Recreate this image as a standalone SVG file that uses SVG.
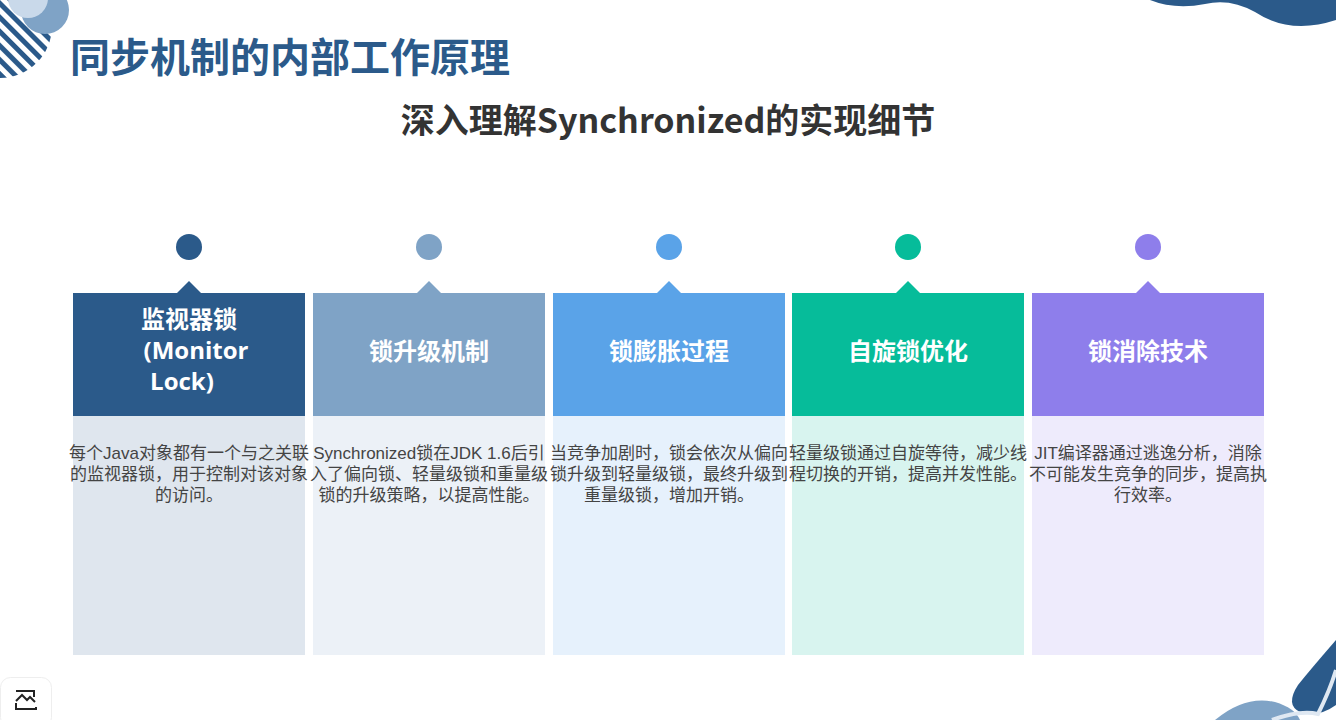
<svg xmlns="http://www.w3.org/2000/svg" width="1336" height="720" viewBox="0 0 1336 720">
<style>
.t{font-family:"Noto Sans CJK SC","Noto Sans",sans-serif}
.h{font-family:"Open Sans","Noto Sans CJK SC",sans-serif;font-weight:bold;font-size:24px;fill:#fff;text-anchor:middle}
.b{font-family:"Liberation Sans","Noto Sans CJK SC",sans-serif;font-size:17px;fill:#444;text-anchor:middle}
</style>
<defs>
<pattern id="st" width="10" height="10" patternUnits="userSpaceOnUse" patternTransform="rotate(45)">
<rect width="10" height="5" fill="#2b5a8a"/>
</pattern>
</defs>
<rect width="1336" height="720" fill="#fff"/>
<g id="deco">
<circle cx="0" cy="26" r="52" fill="url(#st)"/>
<circle cx="45" cy="10" r="24" fill="#7fa3c6"/>
<circle cx="28" cy="-2" r="20" fill="#c9d9ea"/>
<path d="M1150 0 Q1175 10 1205 4 Q1230 -2 1255 12 Q1290 35 1336 20 L1336 0Z" fill="#2b5a8a"/>
<path d="M1336 640 Q1310 670 1298 685 Q1285 705 1300 712 Q1318 718 1336 705Z" fill="#2b5a8a"/>
<path d="M1215 720 Q1245 695 1275 702 Q1295 708 1300 720Z" fill="#7fa3c6"/>
<path d="M1272 720 Q1300 710 1318 714 Q1330 690 1336 670" fill="none" stroke="#dfe8f2" stroke-width="4"/>
<rect x="0.5" y="677.5" width="51" height="50" rx="10" fill="#fff" stroke="#eee"/>
<path d="M16 691 H34 V697 M36 707 V709 H16 V703 M16 701 L22 695 L27 700 L30 697 L35 702" fill="none" stroke="#222" stroke-width="2"/>
</g>
<text x="70" y="72" class="t" font-size="40" font-weight="bold" fill="#2b5a8a">同步机制的内部工作原理</text>
<text x="668" y="133" class="t" font-size="34" font-weight="bold" fill="#333" text-anchor="middle">深入理解Synchronized的实现细节</text>
<g id="connectors"></g>
<g id="n1">
<rect x="73" y="416" width="232" height="239" fill="#dfe6ee"/>
<rect x="73" y="293" width="232" height="123" fill="#2b5a8a"/>
<path d="M177 293 L189 281 L201 293Z" fill="#2b5a8a"/>
<circle cx="189" cy="247" r="13" fill="#2b5a8a"/>
<text class="h"><tspan x="189" y="328">监视器锁</tspan><tspan x="196" y="359">(Monitor</tspan><tspan x="182" y="390">Lock)</tspan></text>
<text class="b"><tspan x="189" y="459">每个Java对象都有一个与之关联</tspan><tspan x="189" y="480">的监视器锁，用于控制对该对象</tspan><tspan x="189" y="501">的访问。</tspan></text>
</g>
<g id="n2">
<rect x="313" y="416" width="232" height="239" fill="#ecf1f7"/>
<rect x="313" y="293" width="232" height="123" fill="#7fa3c6"/>
<path d="M417 293 L429 281 L441 293Z" fill="#7fa3c6"/>
<circle cx="429" cy="247" r="13" fill="#7fa3c6"/>
<text class="h" x="429" y="360">锁升级机制</text>
<text class="b"><tspan x="429" y="459">Synchronized锁在JDK 1.6后引</tspan><tspan x="429" y="480">入了偏向锁、轻量级锁和重量级</tspan><tspan x="429" y="501">锁的升级策略，以提高性能。</tspan></text>
</g>
<g id="n3">
<rect x="553" y="416" width="232" height="239" fill="#e6f1fc"/>
<rect x="553" y="293" width="232" height="123" fill="#5aa3e8"/>
<path d="M657 293 L669 281 L681 293Z" fill="#5aa3e8"/>
<circle cx="669" cy="247" r="13" fill="#5aa3e8"/>
<text class="h" x="669" y="360">锁膨胀过程</text>
<text class="b"><tspan x="669" y="459">当竞争加剧时，锁会依次从偏向</tspan><tspan x="669" y="480">锁升级到轻量级锁，最终升级到</tspan><tspan x="669" y="501">重量级锁，增加开销。</tspan></text>
</g>
<g id="n4">
<rect x="792" y="416" width="232" height="239" fill="#d8f4ef"/>
<rect x="792" y="293" width="232" height="123" fill="#06bc9a"/>
<path d="M896 293 L908 281 L920 293Z" fill="#06bc9a"/>
<circle cx="908" cy="247" r="13" fill="#06bc9a"/>
<text class="h" x="908" y="360">自旋锁优化</text>
<text class="b"><tspan x="908" y="459">轻量级锁通过自旋等待，减少线</tspan><tspan x="908" y="480">程切换的开销，提高并发性能。</tspan></text>
</g>
<g id="n5">
<rect x="1032" y="416" width="232" height="239" fill="#eeebfc"/>
<rect x="1032" y="293" width="232" height="123" fill="#8e7eeb"/>
<path d="M1136 293 L1148 281 L1160 293Z" fill="#8e7eeb"/>
<circle cx="1148" cy="247" r="13" fill="#8e7eeb"/>
<text class="h" x="1148" y="360">锁消除技术</text>
<text class="b"><tspan x="1148" y="459">JIT编译器通过逃逸分析，消除</tspan><tspan x="1148" y="480">不可能发生竞争的同步，提高执</tspan><tspan x="1148" y="501">行效率。</tspan></text>
</g>
</svg>
